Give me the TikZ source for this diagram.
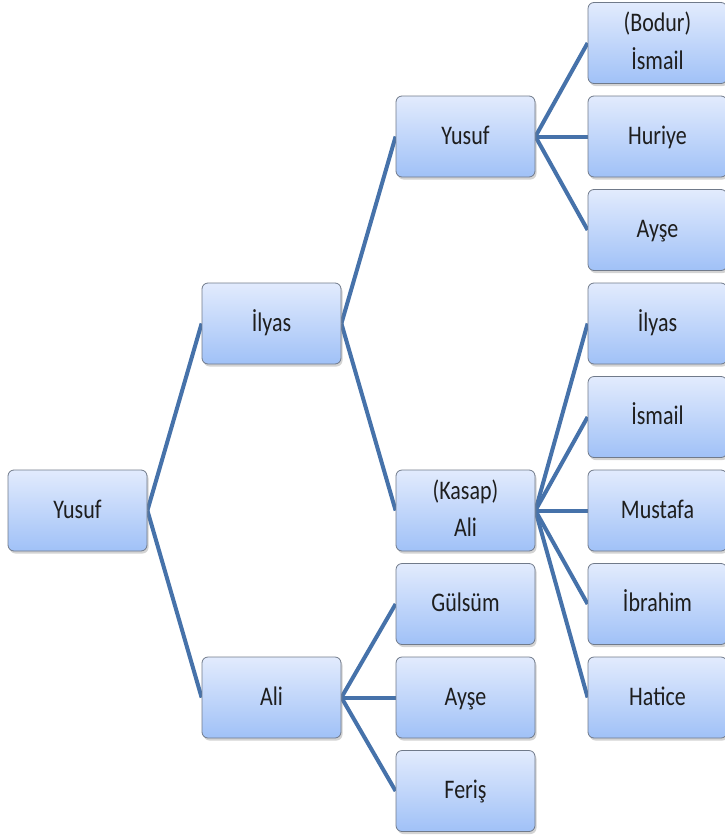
\documentclass[tikz,border=0pt]{standalone}
\usepackage{fontspec}
\setmainfont{Carlito}
\usepackage{graphicx}
\usetikzlibrary{shadows}
\usetikzlibrary{backgrounds}

\definecolor{dalmavi}{RGB}{70,114,170}
\definecolor{kutuust}{RGB}{226,235,253}
\definecolor{kutualt}{RGB}{160,193,247}
\definecolor{kenar}{RGB}{112,122,138}
\definecolor{yazi}{RGB}{30,30,30}

\newcommand\isim[1]{\raisebox{-1.5pt}{\scalebox{1}[1.22]{\begin{tabular}{@{}c@{}}#1\end{tabular}}}}

\begin{document}
\begin{tikzpicture}[x=1pt,y=-1pt,
	kutu/.style={draw=kenar,line width=0.8pt,rounded corners=6pt,top color=kutuust,bottom color=kutualt,
		minimum width=139pt,minimum height=81pt,inner sep=0pt,text=yazi,
		font=\fontsize{22}{31}\selectfont,
		drop shadow={opacity=0.35,shadow xshift=1.5pt,shadow yshift=-2.5pt}},
	dal/.style={draw=dalmavi,line width=4pt}]
	\useasboundingbox (0,0) rectangle (724,835);

	\draw (77.5,510.5) node (yusuf) [kutu] {\isim{Yusuf}};

	\draw (271.5,323.5) node (ilyas) [kutu] {\isim{İlyas}};
	\draw (271.5,697.5) node (ali) [kutu] {\isim{Ali}};

	\draw (465.5,136.5) node (yusufb) [kutu] {\isim{Yusuf}};
	\draw (465.5,510.5) node (kasapali) [kutu] {\isim{(Kasap)\\Ali}};
	\draw (465.5,604) node (gulsum) [kutu] {\isim{Gülsüm}};
	\draw (465.5,697.5) node (ayseb) [kutu] {\isim{Ayşe}};
	\draw (465.5,791) node (feris) [kutu] {\isim{Feriş}};

	\draw (657.5,43) node (bodur) [kutu] {\isim{(Bodur)\\İsmail}};
	\draw (657.5,136.5) node (huriye) [kutu] {\isim{Huriye}};
	\draw (657.5,230) node (aysec) [kutu] {\isim{Ayşe}};
	\draw (657.5,323.5) node (ilyasc) [kutu] {\isim{İlyas}};
	\draw (657.5,417) node (ismail) [kutu] {\isim{İsmail}};
	\draw (657.5,510.5) node (mustafa) [kutu] {\isim{Mustafa}};
	\draw (657.5,604) node (ibrahim) [kutu] {\isim{İbrahim}};
	\draw (657.5,697.5) node (hatice) [kutu] {\isim{Hatice}};

	\begin{scope}[on background layer]
	\path[dal] (yusuf.east) edge (ilyas.west);
	\path[dal] (yusuf.east) edge (ali.west);
	\path[dal] (ilyas.east) edge (yusufb.west);
	\path[dal] (ilyas.east) edge (kasapali.west);
	\path[dal] (ali.east) edge (gulsum.west);
	\path[dal] (ali.east) edge (ayseb.west);
	\path[dal] (ali.east) edge (feris.west);
	\path[dal] (yusufb.east) edge (bodur.west);
	\path[dal] (yusufb.east) edge (huriye.west);
	\path[dal] (yusufb.east) edge (aysec.west);
	\path[dal] (kasapali.east) edge (ilyasc.west);
	\path[dal] (kasapali.east) edge (ismail.west);
	\path[dal] (kasapali.east) edge (mustafa.west);
	\path[dal] (kasapali.east) edge (ibrahim.west);
	\path[dal] (kasapali.east) edge (hatice.west);
	\end{scope}
\end{tikzpicture}
\end{document}
